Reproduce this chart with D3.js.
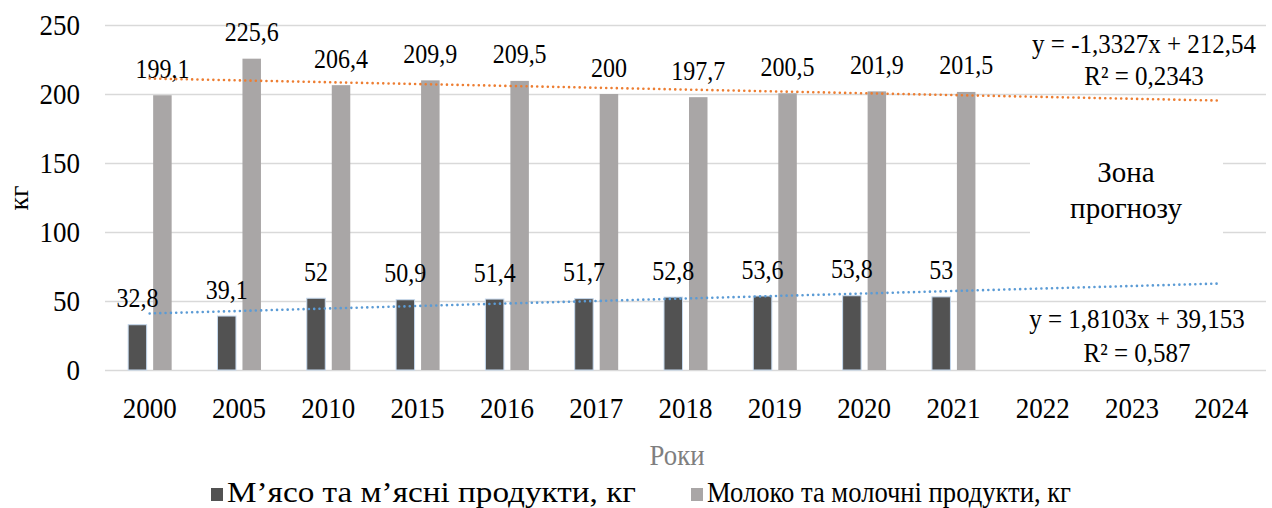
<!DOCTYPE html>
<html>
<head>
<meta charset="utf-8">
<script src="https://cdn.jsdelivr.net/npm/d3@7"></script>
<style>
  body { margin: 0; background: #fff; }
  svg text { font-family: "Liberation Serif", "DejaVu Serif", serif !important; fill: #000; }
</style>
</head>
<body>
<svg id="chart"></svg>
<script>
var years = ["2000", "2005", "2010", "2015", "2016", "2017", "2018", "2019", "2020", "2021", "2022", "2023", "2024"];
var meat = [32.8, 39.1, 52, 50.9, 51.4, 51.7, 52.8, 53.6, 53.8, 53, null, null, null];
var milk = [199.1, 225.6, 206.4, 209.9, 209.5, 200, 197.7, 200.5, 201.9, 201.5, null, null, null];
var meatLabels = ["32,8", "39,1", "52", "50,9", "51,4", "51,7", "52,8", "53,6", "53,8", "53"];
var milkLabels = ["199,1", "225,6", "206,4", "209,9", "209,5", "200", "197,7", "200,5", "201,9", "201,5"];
var yTicks = [0, 50, 100, 150, 200, 250];
// trend line coefficients, as printed on the chart (x = 1..13)
var trendSlope = [1.8103, -1.3327];
var trendIntercept = [39.153, 212.54];
var trendText = [["y = 1,8103x + 39,153", "R² = 0,587"], ["y = -1,3327x + 212,54", "R² = 0,2343"]];
var seriesNames = ["М’ясо та м’ясні продукти, кг", "Молоко та молочні продукти, кг"];

var width = 1272, height = 508;
var colors = ["#525252", "#a9a6a6"];
var trendColors = ["#5b9bd5", "#ed7d31"];
var serif = "'Liberation Serif', 'DejaVu Serif', serif";

var svg = d3.select("#chart")
  .attr("width", width)
  .attr("height", height)
  .attr("font-family", serif);

var x = d3.scaleBand()
  .domain(years)
  .range([105, 1266]);

var y = d3.scaleLinear()
  .domain([0, 250])
  .range([370, 25]);

var stretch = 1.13;

// gridlines + y labels
var yAxis = svg.append("g")
  .attr("transform", "translate(105,0)")
  .call(d3.axisLeft(y).tickValues(yTicks).tickSize(-(1266 - 105)).tickPadding(25))
  .attr("font-family", serif);
yAxis.select(".domain").remove();
yAxis.selectAll(".tick line")
  .attr("stroke", "#d9d9d9")
  .attr("stroke-width", 1.5);
yAxis.selectAll(".tick text")
  .attr("font-size", 27)
  .attr("fill", "#000")
  .attr("transform", "scale(1," + stretch + ")")
  .attr("dy", "0.3em");

// white box of the forecast zone
svg.append("rect")
  .attr("x", 1030).attr("y", 135)
  .attr("width", 193).attr("height", 112)
  .attr("fill", "#fff");

svg.append("text")
  .attr("transform", "translate(1126,182)")
  .attr("text-anchor", "middle")
  .attr("font-size", 29)
  .text("Зона");
svg.append("text")
  .attr("transform", "translate(1126,218)")
  .attr("text-anchor", "middle")
  .attr("font-size", 29)
  .text("прогнозу");

// bars
var barW = 18.5;
var offsets = [-21.5, 3.5];
[meat, milk].forEach(function(values, s) {
  svg.append("g")
    .selectAll("rect")
    .data(values.map(function(v, i) { return {year: years[i], value: v}; })
      .filter(function(d) { return d.value !== null; }))
    .enter().append("rect")
      .attr("x", function(d) { return x(d.year) + x.bandwidth() / 2 + offsets[s]; })
      .attr("y", function(d) { return y(d.value); })
      .attr("width", barW)
      .attr("height", function(d) { return y(0) - y(d.value); })
      .attr("fill", colors[s])
      .attr("stroke", s === 0 ? "#c5d9ee" : "none")
      .attr("stroke-width", 1);
});

// value labels
[meatLabels, milkLabels].forEach(function(labels, s) {
  var values = s === 0 ? meat : milk;
  svg.append("g")
    .selectAll("text")
    .data(labels)
    .enter().append("text")
      .attr("transform", function(d, i) {
        var cx = x(years[i]) + x.bandwidth() / 2 + offsets[s] + barW / 2;
        return "translate(" + cx + "," + (y(values[i]) - 17.5) + ") scale(1," + stretch + ")";
      })
      .attr("text-anchor", "middle")
      .attr("font-size", 24)
      .text(function(d) { return d; });
});

// trend lines
trendSlope.forEach(function(k, s) {
  var pts = [0, years.length - 1].map(function(i) {
    return [x(years[i]) + x.bandwidth() / 2, y(k * (i + 1) + trendIntercept[s])];
  });
  svg.append("path")
    .attr("d", d3.line()(pts))
    .attr("fill", "none")
    .attr("stroke", trendColors[s])
    .attr("stroke-width", 2.6)
    .attr("stroke-linecap", "round")
    .attr("stroke-dasharray", "0.01 5.3");
});

// trend equations
var eqPos = [[1137, 328, 362], [1144, 53, 85]];
trendText.forEach(function(lines, s) {
  lines.forEach(function(t, j) {
    svg.append("text")
      .attr("transform", "translate(" + eqPos[s][0] + "," + eqPos[s][j + 1] + ") scale(1,1.08)")
      .attr("text-anchor", "middle")
      .attr("font-size", 25)
      .text(t);
  });
});

// x labels
svg.append("g")
  .selectAll("text")
  .data(years)
  .enter().append("text")
    .attr("transform", function(d) {
      return "translate(" + (x(d) + x.bandwidth() / 2) + ",418) scale(1," + stretch + ")";
    })
    .attr("text-anchor", "middle")
    .attr("font-size", 27)
    .text(function(d) { return d; });

// axis titles
svg.append("text")
  .attr("x", 677).attr("y", 465)
  .attr("text-anchor", "middle")
  .attr("font-size", 29)
  .attr("textLength", 55)
  .attr("lengthAdjust", "spacingAndGlyphs")
  .style("fill", "#7f7f7f")
  .text("Роки");

svg.append("text")
  .attr("transform", "translate(28,198) rotate(-90)")
  .attr("text-anchor", "middle")
  .attr("font-size", 28)
  .text("кг");

// legend
var legendX = [211, 691];
var legendLen = [409, 364];
seriesNames.forEach(function(name, s) {
  svg.append("rect")
    .attr("x", legendX[s]).attr("y", 488)
    .attr("width", 12).attr("height", 13)
    .attr("fill", colors[s]);
  svg.append("text")
    .attr("x", legendX[s] + 16).attr("y", 502)
    .attr("font-size", 29)
    .attr("textLength", legendLen[s])
    .attr("lengthAdjust", "spacingAndGlyphs")
    .text(name);
});
</script>
</body>
</html>
